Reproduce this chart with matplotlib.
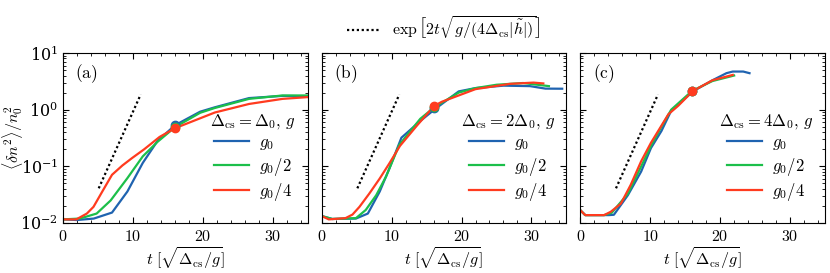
import numpy as np
import matplotlib.pyplot as plt
from matplotlib.ticker import MultipleLocator, FuncFormatter, LogLocator

plt.rcParams["mathtext.fontset"] = "cm"
plt.rcParams["font.family"] = ["DejaVu Serif"]
plt.rcParams["font.size"] = 11

# colours of the three g values
colors = ["#1f63b0", "#1cbf4a", "#ff3b1f"]
labels = [r"$g_0$", r"$g_0/2$", r"$g_0/4$"]
titles = [r"$\Delta_{\rm cs} = \Delta_0,\, g$",
          r"$\Delta_{\rm cs} = 2\Delta_0,\, g$",
          r"$\Delta_{\rm cs} = 4\Delta_0,\, g$"]

# dotted guide exp[2t sqrt(g/(4 Dcs |h|))]
guide_t = [5.1, 11.1]
guide_v = [0.041, 1.85]

# marker time and values (one per panel)
mark_t = 16.0
mark_v = [[0.53, 0.49, 0.47], [1.05, 1.1, 1.17], [2.1, 2.15, 2.1]]

# panel (a): Dcs = D0
a_blue_t = [0, 2, 4.4, 7.0, 9.2, 11.4, 13.5, 16.0, 19.6, 21.7, 26.6, 31.4, 35.5]
a_blue_v = [0.0116, 0.0113, 0.012, 0.0153, 0.036, 0.115, 0.28, 0.53, 0.92, 1.1, 1.6, 1.75, 1.72]
a_green_t = [0, 2.4, 4.8, 6.8, 9.2, 11.4, 13.5, 16.0, 19.6, 21.7, 26.6, 31.4, 35.5]
a_green_v = [0.0116, 0.012, 0.0147, 0.025, 0.062, 0.15, 0.27, 0.49, 0.88, 1.07, 1.55, 1.78, 1.78]
a_red_t = [0, 1.9, 3.4, 4.35, 5.6, 7.0, 8.5, 9.9, 11.6, 13.8, 16.0, 16.9, 21.7, 26.6, 31.4, 35.5]
a_red_v = [0.0116, 0.0116, 0.0147, 0.0193, 0.0358, 0.071, 0.104, 0.141, 0.2, 0.33, 0.47, 0.52, 0.89, 1.26, 1.55, 1.68]

# panel (b): Dcs = 2 D0
b_blue_t = [0, 1.5, 4.9, 6.6, 8.3, 9.7, 11.4, 14.1, 16.1, 19.6, 22, 26, 29.8, 32, 34.4]
b_blue_v = [0.0133, 0.0118, 0.012, 0.0147, 0.036, 0.093, 0.32, 0.63, 1.0, 2.1, 2.4, 2.65, 2.6, 2.35, 2.34]
b_green_t = [0, 1.5, 4.9, 6.3, 7.8, 9.2, 11.1, 14.1, 16.1, 19.6, 22, 25, 28.8, 32.5]
b_green_v = [0.0133, 0.0118, 0.0122, 0.017, 0.031, 0.066, 0.24, 0.69, 1.1, 2.0, 2.4, 2.75, 2.95, 2.6]
b_red_t = [0, 1.0, 3.4, 4.4, 5.4, 6.8, 8.3, 9.7, 11.2, 13.6, 16.1, 17.2, 22, 26.9, 30.3, 31.7]
b_red_v = [0.0133, 0.0116, 0.0122, 0.0141, 0.0193, 0.033, 0.061, 0.114, 0.23, 0.52, 1.17, 1.38, 2.3, 2.85, 3.0, 2.9]

# panel (c): Dcs = 4 D0
c_blue_t = [0, 0.7, 4.1, 4.8, 6.8, 8.7, 10.1, 11.6, 13.0, 16.1, 18.9, 20.9, 21.8, 23.3, 24.2]
c_blue_v = [0.0168, 0.0138, 0.0138, 0.014, 0.031, 0.081, 0.21, 0.42, 0.96, 2.1, 3.3, 4.4, 4.7, 4.7, 4.4]
c_green_t = [0, 0.7, 3.4, 4.5, 6.8, 8.7, 10.1, 11.6, 13.0, 16.0, 18.9, 22.0]
c_green_v = [0.0168, 0.0138, 0.0138, 0.0152, 0.033, 0.1, 0.23, 0.5, 1.0, 2.15, 3.2, 4.0]
c_red_t = [0, 0.7, 3.4, 4.35, 5.8, 7.2, 8.7, 10.1, 12.6, 14.0, 16.1, 18.9, 21.8]
c_red_v = [0.0168, 0.0138, 0.0138, 0.0158, 0.022, 0.047, 0.123, 0.26, 0.83, 1.17, 2.13, 3.3, 4.1]

series = [
    [(a_blue_t, a_blue_v), (a_green_t, a_green_v), (a_red_t, a_red_v)],
    [(b_blue_t, b_blue_v), (b_green_t, b_green_v), (b_red_t, b_red_v)],
    [(c_blue_t, c_blue_v), (c_green_t, c_green_v), (c_red_t, c_red_v)],
]


def math_fmt(x, pos):
    return r"$%g$" % x


fig, axes = plt.subplots(1, 3, figsize=(8.3, 2.73), dpi=100, sharey=True)
fig.subplots_adjust(left=0.076, right=0.994, bottom=0.183, top=0.806, wspace=0.057)

for k, ax in enumerate(axes):
    guide, = ax.plot(guide_t, guide_v, ls=(0, (1, 1.2)), color="black", lw=1.6)
    for j, (t, v) in enumerate(series[k]):
        ax.plot(t, v, color=colors[j], lw=1.6, label=labels[j])
    for j in range(3):
        ax.plot(mark_t, mark_v[k][j], "o", color=colors[j], ms=6, zorder=5)

    ax.set_yscale("log")
    ax.set_xlim(0, 35)
    ax.set_ylim(1e-2, 1e1)
    ax.xaxis.set_major_locator(MultipleLocator(10))
    ax.xaxis.set_minor_locator(MultipleLocator(2))
    ax.xaxis.set_major_formatter(FuncFormatter(math_fmt))
    ax.yaxis.set_major_locator(LogLocator(base=10))
    ax.yaxis.set_minor_locator(LogLocator(base=10, subs=np.arange(2, 10)))
    ax.tick_params(which="both", direction="in", top=True, right=True, labelsize=11.5)
    ax.tick_params(which="major", length=4)
    ax.tick_params(which="minor", length=2)
    ax.set_xlabel(r"$t\ [\sqrt{\Delta_{\rm cs}/g}]$", fontsize=11.5, labelpad=1)
    ax.text(0.05, 0.88, r"$\mathrm{(%s)}$" % "abc"[k], transform=ax.transAxes,
            fontsize=12.5, va="center", ha="left")
    ax.legend(title=titles[k], loc="lower right", bbox_to_anchor=(1.0, 0.05),
              frameon=False, fontsize=12, title_fontsize=12,
              handlelength=2.1, handletextpad=0.6, labelspacing=0.2, borderpad=0.2)

axes[0].set_ylabel(r"$\langle \delta n^2\rangle / n_0^2$", fontsize=11.5)
axes[0].yaxis.set_label_coords(-0.155, 0.5)

fig.legend([guide], [r"$\exp\left[2t\sqrt{g/(4\Delta_{\rm cs}|\tilde{h}|)}\right]$"],
           loc="upper center", bbox_to_anchor=(0.535, 1.0), frameon=False,
           fontsize=11.5, handlelength=2.0)

fig.savefig("out.png", dpi=100)
